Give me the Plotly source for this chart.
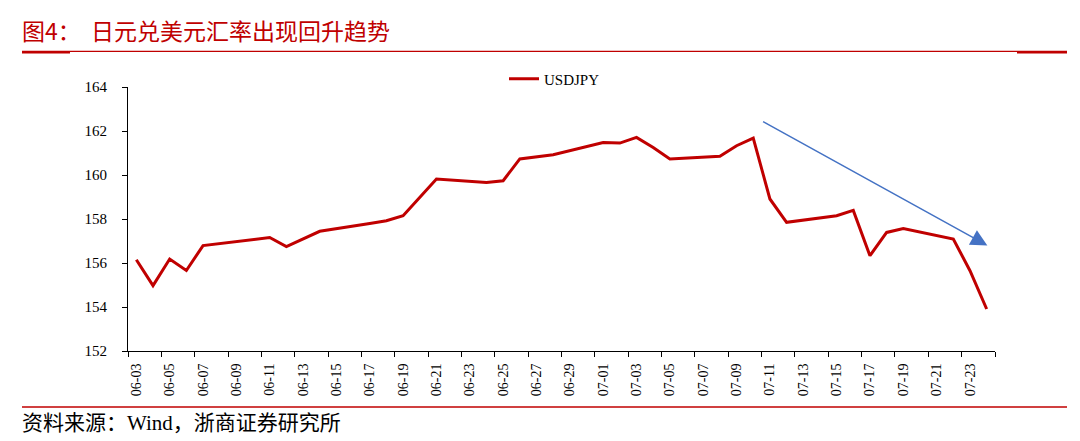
import plotly.graph_objects as go

# ---- data ----
dates = [
    "2024-06-03", "2024-06-04", "2024-06-05", "2024-06-06", "2024-06-07",
    "2024-06-10", "2024-06-11", "2024-06-12", "2024-06-13", "2024-06-14",
    "2024-06-17", "2024-06-18", "2024-06-19", "2024-06-20", "2024-06-21",
    "2024-06-24", "2024-06-25", "2024-06-26", "2024-06-27", "2024-06-28",
    "2024-07-01", "2024-07-02", "2024-07-03", "2024-07-04", "2024-07-05",
    "2024-07-08", "2024-07-09", "2024-07-10", "2024-07-11", "2024-07-12",
    "2024-07-15", "2024-07-16", "2024-07-17", "2024-07-18", "2024-07-19",
    "2024-07-22", "2024-07-23", "2024-07-24",
]
usdjpy = [
    156.15, 154.97, 156.18, 155.66, 156.79,
    157.07, 157.16, 156.75, 157.10, 157.44,
    157.80, 157.92, 158.15, 158.98, 159.82,
    159.66, 159.74, 160.73, 160.83, 160.92,
    161.48, 161.45, 161.71, 161.25, 160.73,
    160.85, 161.33, 161.68, 158.91, 157.85,
    158.15, 158.39, 156.33, 157.39, 157.57,
    157.09, 155.65, 153.91,
]
series_name = "USDJPY"
y_ticks = [152, 154, 156, 158, 160, 162, 164]

title_text = "图4：  日元兑美元汇率出现回升趋势"
source_text = ('资料来源：<span style="font-family:Liberation Serif">Wind</span>'
               '，浙商证券研究所')

RED = "#C00000"
SERIF = "Liberation Serif, Times New Roman, serif"
CJK = "Noto Sans CJK SC"
DAY = 86400000

# page offset (browser body margin) compensation
OFF = 8
W, H = 1080 - OFF, 441 - OFF
# plot area in reference-image pixels
L, R, T, B = 128, 995, 87, 351
PW, PH = R - L, B - T


def px(x):
    return (x - L) / PW


def py(y):
    return (B - y) / PH


fig = go.Figure()
# each daily point sits in the middle of its day slot (Excel date axis style)
x_mid = [d + " 12:00" for d in dates]
fig.add_trace(go.Scatter(
    x=x_mid, y=usdjpy, mode="lines", name=series_name,
    line=dict(color=RED, width=3),
))

fig.update_layout(
    width=W, height=H,
    margin=dict(l=L - OFF, r=1080 - R, t=T - OFF, b=441 - B, pad=0, autoexpand=False),
    paper_bgcolor="white", plot_bgcolor="white",
    showlegend=True,
    legend=dict(
        orientation="h", x=px(504), xanchor="left", y=py(79), yanchor="middle",
        font=dict(family=SERIF, size=15, color="#000"),
        bgcolor="rgba(0,0,0,0)",
    ),
    xaxis=dict(
        type="date", automargin=False,
        range=["2024-06-03", "2024-07-25"],
        tick0="2024-06-03 12:00", dtick=2 * DAY,
        tickformat="%m-%d", tickangle=-90,
        ticks="", showgrid=False, zeroline=False,
        showline=True, linecolor="#000", linewidth=1,
        tickfont=dict(family=SERIF, size=14, color="#000"),
        ticklabelstandoff=6,
        minor=dict(ticks="outside", ticklen=5, tickcolor="#000",
                   tick0="2024-06-03", dtick=2 * DAY, showgrid=False),
    ),
    yaxis=dict(
        automargin=False,
        range=[152, 164], tickvals=y_ticks,
        ticks="outside", ticklen=5, tickcolor="#000",
        showgrid=False, zeroline=False,
        showline=True, linecolor="#000", linewidth=1,
        tickfont=dict(family=SERIF, size=15, color="#000"),
        ticklabelstandoff=12,
    ),
)

shapes = [
    # title rule
    dict(type="line", xref="paper", yref="paper", x0=px(22), x1=px(1067),
         y0=py(51.3), y1=py(51.3), line=dict(color=RED, width=1.3)),
    dict(type="line", xref="paper", yref="paper", x0=px(22), x1=px(70),
         y0=py(52.3), y1=py(52.3), line=dict(color=RED, width=2.5)),
    dict(type="line", xref="paper", yref="paper", x0=px(1017), x1=px(1067),
         y0=py(52.3), y1=py(52.3), line=dict(color=RED, width=2.5)),
    # source rule
    dict(type="line", xref="paper", yref="paper", x0=px(22), x1=px(1067),
         y0=py(407), y1=py(407), line=dict(color=RED, width=1.3)),
]
fig.update_layout(shapes=shapes)

fig.add_annotation(
    xref="paper", yref="paper", x=px(20), y=py(30), xanchor="left", yanchor="middle",
    text=title_text, showarrow=False,
    font=dict(family=CJK, size=23, color=RED),
)
fig.add_annotation(
    xref="paper", yref="paper", x=px(20), y=py(421), xanchor="left", yanchor="middle",
    text=source_text, showarrow=False,
    font=dict(family=CJK, size=21, color="#000"),
)
# trend arrow
fig.add_annotation(
    x="2024-07-24 13:00", y=156.8, xref="x", yref="y",
    ax="2024-07-11 00:00", ay=162.46, axref="x", ayref="y",
    showarrow=True, arrowhead=2, arrowsize=2.2, arrowwidth=1.5,
    arrowcolor="#4472C4", text="", standoff=0,
)

fig.write_html("out.html")
